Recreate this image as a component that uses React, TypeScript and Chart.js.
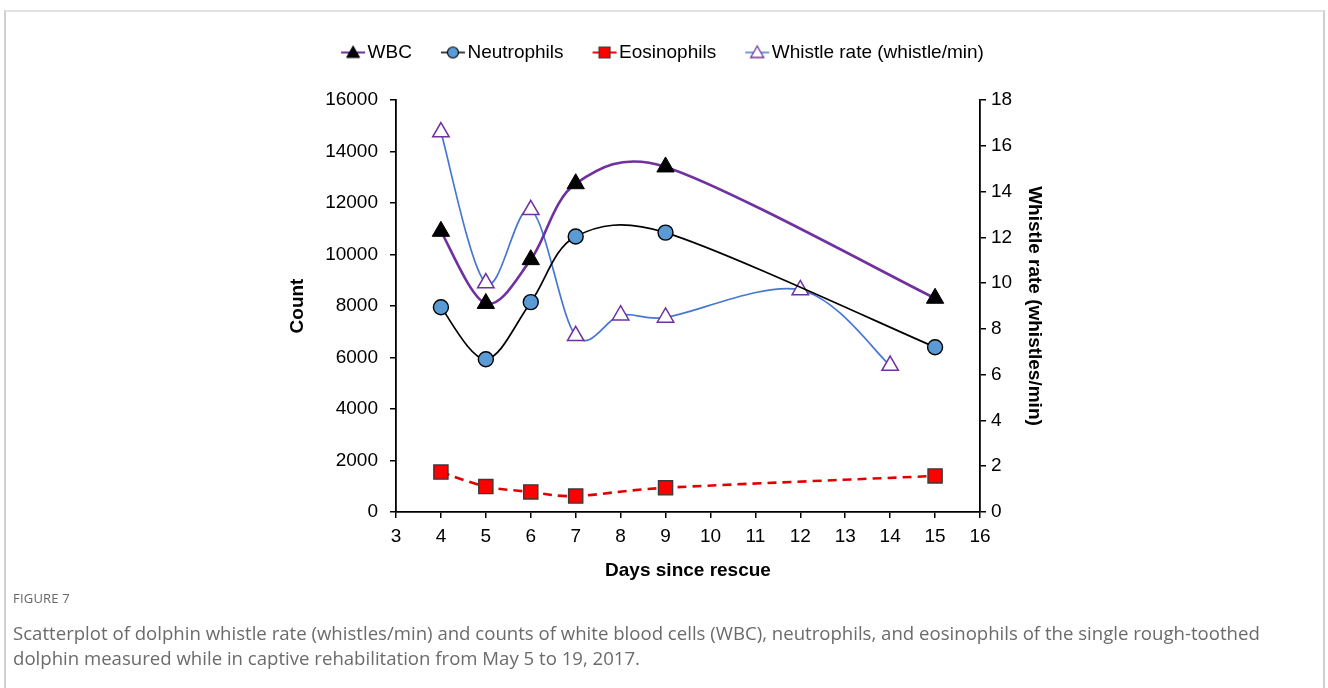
import React, { useEffect, useRef } from "react";
import { Chart, registerables } from "chart.js";

Chart.register(...registerables);

// Days since rescue on which blood was drawn
const bloodDays = [4, 5, 6, 7, 9, 15];
// Counts (cells/µL)
const wbcCounts = [10900, 8100, 9800, 12750, 13400, 8300];
const neutrophilCounts = [7950, 5930, 8150, 10700, 10850, 6400];
const eosinophilCounts = [1550, 990, 780, 620, 940, 1400];

// Days on which whistles were recorded, and the rate (whistles/min)
const whistleDays = [4, 5, 6, 7, 8, 9, 12, 14];
const whistleRates = [16.6, 10.0, 13.2, 7.7, 8.6, 8.5, 9.7, 6.4];

const seriesLabels = ["WBC", "Neutrophils", "Eosinophils", "Whistle rate (whistle/min)"];

const FONT = "'Liberation Sans', Arial, Helvetica, sans-serif";

const PURPLE = "#7030A0";
const BLUE_LINE = "#4677D3";
const BLUE_FILL = "#5B9BD5";
const RED = "#FF0000";

type Marker = "triangle" | "circle" | "rect";

// Small legend glyph: a short line with the series marker in its middle
function legendGlyph(
  lineColor: string,
  lineWidth: number,
  marker: Marker,
  fill: string,
  stroke: string,
  strokeWidth: number
): HTMLCanvasElement {
  const c = document.createElement("canvas");
  c.width = 26;
  c.height = 20;
  const ctx = c.getContext("2d")!;
  const cy = 10;
  const cx = 13;
  ctx.strokeStyle = lineColor;
  ctx.lineWidth = lineWidth;
  ctx.beginPath();
  ctx.moveTo(1, cy);
  ctx.lineTo(25, cy);
  ctx.stroke();
  ctx.fillStyle = fill;
  ctx.strokeStyle = stroke;
  ctx.lineWidth = strokeWidth;
  ctx.beginPath();
  if (marker === "triangle") {
    ctx.moveTo(cx, cy - 6.5);
    ctx.lineTo(cx + 6.5, cy + 5);
    ctx.lineTo(cx - 6.5, cy + 5);
    ctx.closePath();
  } else if (marker === "circle") {
    ctx.arc(cx, cy, 5.5, 0, Math.PI * 2);
  } else {
    ctx.rect(cx - 5.5, cy - 5.5, 11, 11);
  }
  ctx.fill();
  ctx.stroke();
  return c;
}

function toPoints(xs: number[], ys: number[]) {
  return xs.map((x, i) => ({ x, y: ys[i] }));
}

// Spreadsheet-style smoothing: Bezier control points at 1/6 of the
// neighbour chord, capped at half of the segment length.
const spreadsheetSmoothing = {
  id: "spreadsheetSmoothing",
  beforeDatasetDraw(chart: any, args: any) {
    const meta = chart.getDatasetMeta(args.index);
    const line = meta.dataset;
    if (!line || !line.updateControlPoints) return;
    line.updateControlPoints(chart.chartArea, meta.iScale ? meta.iScale.axis : "x");
    const pts = meta.data;
    const n = pts.length;
    const dist = (a: any, b: any) => Math.hypot(b.x - a.x, b.y - a.y);
    for (let i = 0; i < n - 1; i++) {
      const p1 = pts[i];
      const p2 = pts[i + 1];
      const p0 = i > 0 ? pts[i - 1] : p1;
      const p3 = i + 2 < n ? pts[i + 2] : p2;
      const d12 = dist(p1, p2);
      const d02 = dist(p0, p2);
      const d13 = dist(p1, p3);
      let f = 1 / 6;
      let g = 1 / 6;
      if (d02 > 0 && d02 / 6 >= d12 / 2) f = d12 / (2 * d02);
      if (d13 > 0 && d13 / 6 >= d12 / 2) g = d12 / (2 * d13);
      p1.cp2x = p1.x + f * (p2.x - p0.x);
      p1.cp2y = p1.y + f * (p2.y - p0.y);
      p2.cp1x = p2.x - g * (p3.x - p1.x);
      p2.cp1y = p2.y - g * (p3.y - p1.y);
    }
    line._path = undefined;
  },
};

export default function App() {
  const canvasRef = useRef<HTMLCanvasElement | null>(null);

  useEffect(() => {
    const canvas = canvasRef.current;
    if (!canvas) return;

    const glyphs = [
      legendGlyph(PURPLE, 2, "triangle", "#000", "#000", 1),
      legendGlyph("#000", 1.5, "circle", BLUE_FILL, "#000", 1.2),
      legendGlyph(RED, 2, "rect", RED, "#3a3a3a", 1.2),
      legendGlyph(BLUE_LINE, 1.5, "triangle", "#fff", PURPLE, 1.3),
    ];

    const axisFont = { family: FONT, size: 19 };
    const titleFont = { family: FONT, size: 19, weight: "bold" as const };
    const plain = (v: any) => String(v);

    const chart = new Chart(canvas, {
      type: "line",
      plugins: [spreadsheetSmoothing],
      data: {
        datasets: [
          {
            label: seriesLabels[0],
            data: toPoints(bloodDays, wbcCounts),
            yAxisID: "y",
            borderColor: PURPLE,
            borderWidth: 2.6,
            tension: 0.4,
            pointStyle: "triangle",
            pointRadius: 10,
            pointBackgroundColor: "#000",
            pointBorderColor: "#000",
            pointBorderWidth: 1,
          },
          {
            label: seriesLabels[1],
            data: toPoints(bloodDays, neutrophilCounts),
            yAxisID: "y",
            borderColor: "#000",
            borderWidth: 1.7,
            tension: 0.4,
            pointStyle: "circle",
            pointRadius: 7.5,
            pointBackgroundColor: BLUE_FILL,
            pointBorderColor: "#000",
            pointBorderWidth: 1.4,
          },
          {
            label: seriesLabels[2],
            data: toPoints(bloodDays, eosinophilCounts),
            yAxisID: "y",
            borderColor: "#E00000",
            borderWidth: 2.6,
            borderDash: [9, 6],
            tension: 0.4,
            pointStyle: "rect",
            pointRadius: 10,
            pointBackgroundColor: RED,
            pointBorderColor: "#3a3a3a",
            pointBorderWidth: 1.4,
          },
          {
            label: seriesLabels[3],
            data: toPoints(whistleDays, whistleRates),
            yAxisID: "y1",
            borderColor: BLUE_LINE,
            borderWidth: 1.7,
            tension: 0.4,
            pointStyle: "triangle",
            pointRadius: 9.5,
            pointBackgroundColor: "#fff",
            pointBorderColor: PURPLE,
            pointBorderWidth: 1.5,
          },
        ],
      },
      options: {
        animation: false,
        responsive: false,
        layout: { padding: { left: 282, right: 278, top: 7, bottom: 4 } },
        plugins: {
          tooltip: { enabled: false },
          // blank spacer box between the legend and the plot
          title: {
            display: true,
            text: " ",
            weight: 500,
            font: { family: FONT, size: 10, lineHeight: 1 },
            padding: { top: 9, bottom: 9 },
          },
          legend: {
            position: "top",
            weight: 1000,
            labels: {
              usePointStyle: true,
              pointStyleWidth: 10,
              padding: 36,
              color: "#000",
              font: axisFont,
              generateLabels: (ch: any) =>
                ch.data.datasets.map((ds: any, i: number) => ({
                  text: ds.label,
                  datasetIndex: i,
                  pointStyle: glyphs[i],
                  fillStyle: "transparent",
                  strokeStyle: "transparent",
                  lineWidth: 0,
                  hidden: false,
                  fontColor: "#000",
                })),
            },
          },
        },
        scales: {
          x: {
            type: "linear",
            min: 3,
            max: 16,
            ticks: { stepSize: 1, color: "#000", font: axisFont, padding: 7, maxRotation: 0, callback: plain },
            grid: { drawOnChartArea: false, drawTicks: true, tickLength: 6, color: "#000", lineWidth: 1.5 },
            border: { color: "#000", width: 1.8 },
            title: { display: true, text: "Days since rescue", color: "#000", font: titleFont, padding: { top: 4, bottom: 4 } },
            afterFit: (s: any) => {
              s.height = 74;
            },
          },
          y: {
            type: "linear",
            position: "left",
            min: 0,
            max: 16000,
            ticks: { stepSize: 2000, color: "#000", font: axisFont, padding: 12, callback: plain },
            grid: { drawOnChartArea: false, drawTicks: true, tickLength: 6, color: "#000", lineWidth: 1.5 },
            border: { color: "#000", width: 1.8 },
            title: { display: true, text: "Count", color: "#000", font: titleFont, padding: { top: 4, bottom: 4 } },
            afterFit: (s: any) => {
              s.width = 114;
            },
          },
          y1: {
            type: "linear",
            position: "right",
            min: 0,
            max: 18,
            ticks: { stepSize: 2, color: "#000", font: axisFont, padding: 5, callback: plain },
            grid: { drawOnChartArea: false, drawTicks: true, tickLength: 6, color: "#000", lineWidth: 1.5 },
            border: { color: "#000", width: 1.8 },
            title: {
              display: true,
              text: "Whistle rate (whistles/min)",
              color: "#000",
              font: titleFont,
              padding: { top: 4, bottom: 4 },
            },
            afterFit: (s: any) => {
              s.width = 70;
            },
          },
        },
      },
    } as any);

    return () => chart.destroy();
  }, []);

  return (
    <div
      style={{
        position: "fixed",
        left: 0,
        top: 0,
        width: 1328,
        height: 688,
        background: "#fff",
        overflow: "hidden",
      }}
    >
      <div
        style={{
          position: "absolute",
          left: 4,
          top: 10,
          width: 1317,
          height: 700,
          borderTop: "2px solid #e2e2e2",
          borderLeft: "2px solid #d0d0d0",
          borderRight: "2px solid #d0d0d0",
        }}
      />
      <canvas
        ref={canvasRef}
        width={1328}
        height={590}
        style={{ position: "absolute", left: 0, top: 0, width: 1328, height: 590 }}
      />
      <div
        style={{
          position: "absolute",
          left: 13,
          top: 588,
          fontFamily: "'Open Sans', 'Noto Sans', sans-serif",
          color: "#6b6b6b",
        }}
      >
        <div style={{ fontSize: 13, letterSpacing: 0.2, lineHeight: "20px", color: "#666" }}>FIGURE 7</div>
        <div style={{ fontSize: 18.6, lineHeight: "25px", marginTop: 12, whiteSpace: "nowrap" }}>
          Scatterplot of dolphin whistle rate (whistles/min) and counts of white blood cells (WBC), neutrophils, and
          eosinophils of the single rough-toothed
          <br />
          dolphin measured while in captive rehabilitation from May 5 to 19, 2017.
        </div>
      </div>
    </div>
  );
}
